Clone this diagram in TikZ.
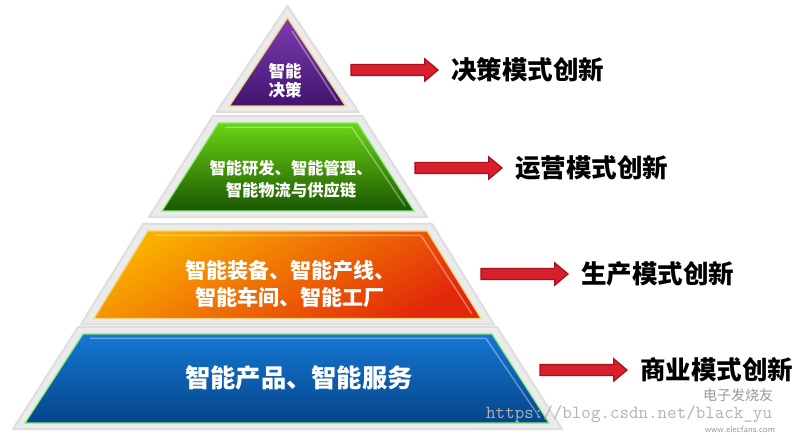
\documentclass[tikz,border=0pt]{standalone}
\usepackage{fontspec}
\newfontfamily\cjk{Noto Sans CJK SC}
\usetikzlibrary{positioning,shapes.arrows}

\definecolor{purpletop}{HTML}{7E3DB2}
\definecolor{purplebot}{HTML}{40146E}
\definecolor{greentop}{HTML}{6AD412}
\definecolor{greenbot}{HTML}{1B5704}
\definecolor{orangetop}{HTML}{FAB000}
\definecolor{orangebot}{HTML}{E2280A}
\definecolor{bluetop}{HTML}{1577D2}
\definecolor{bluebot}{HTML}{05458A}
\definecolor{goldedge}{HTML}{F3D27A}
\definecolor{limeedge}{HTML}{86EC78}
\definecolor{arrowred}{HTML}{D8202C}
\definecolor{arrowdark}{HTML}{A5101C}

\tikzset{
  halo/.style={fill=black!8, draw=black!13, line width=2pt, line join=round},
  bevel/.style={draw=white, opacity=0.35, line width=1.5pt},
  layertext/.style={text=white, align=center, inner sep=0pt},
  modelabel/.style={text=black, font=\cjk\bfseries\fontsize{25.5}{30}\selectfont, anchor=west, inner sep=0pt},
  redarrow/.style={single arrow, fill=arrowred, draw=arrowdark, line width=1.2pt,
    minimum height=87pt, text height=10pt, text depth=0pt, single arrow head extend=5.5pt,
    single arrow tip angle=80, inner sep=0pt}
}

\begin{document}
\begin{tikzpicture}[x=1pt, y=-1pt]
  \useasboundingbox (0,0) rectangle (800,435);
  \fill[white] (0,0) rectangle (800,435);

  % halos
  \draw[halo] (287.5,6) -- (358.5,112) -- (216.5,112) -- cycle;
  \draw[halo] (213,116) -- (362,116) -- (427,217) -- (149,217) -- cycle;
  \draw[halo] (143,224) -- (432,224) -- (494,324.5) -- (81,324.5) -- cycle;
  \draw[halo] (78,327) -- (497,327) -- (562,429) -- (13,429) -- cycle;

  % layers
  \shade[top color=purpletop, bottom color=purplebot, draw=goldedge, line width=1.2pt]
    (287.5,18) -- (345.5,106) -- (229.5,106) -- cycle;
  \draw[bevel] (292,31) -- (337,101);

  \shade[top color=greentop, bottom color=greenbot, draw=limeedge, line width=1.2pt]
    (218.5,123) -- (357.5,123) -- (414,211) -- (162,211) -- cycle;
  \draw[bevel] (225,127.5) -- (352,127.5) -- (405,206);

  \shade[top color=orangetop, bottom color=orangebot, shading angle=30, draw=goldedge, line width=1.2pt]
    (148,231) -- (427,231) -- (481,318.5) -- (94,318.5) -- cycle;
  \draw[bevel] (155,235.5) -- (421,235.5) -- (472,314);

  \shade[top color=bluetop, bottom color=bluebot, draw=limeedge, line width=1.2pt]
    (83,334) -- (492,334) -- (549,423) -- (25,423) -- cycle;
  \draw[bevel] (90,338.5) -- (486,338.5) -- (540,418);

  % layer texts
  \node[layertext, font=\cjk\bfseries\fontsize{16.5}{19.5}\selectfont] (decide) at (285,80.5) {智能\\决策};
  \node[layertext, font=\cjk\bfseries\fontsize{16.3}{22}\selectfont] (operate) at (291,179) {智能研发、智能管理、\\智能物流与供应链};
  \node[layertext, font=\cjk\bfseries\fontsize{21}{27}\selectfont] (produce) at (290,283.5) {智能装备、智能产线、\\智能车间、智能工厂};
  \node[layertext, font=\cjk\bfseries\fontsize{25.3}{30}\selectfont] (product) at (299,378) {智能产品、智能服务};

  % innovation labels and arrows
  \node[modelabel] (innov1) at (451,70) {决策模式创新};
  \node[modelabel] (innov2) at (515,168) {运营模式创新};
  \node[modelabel] (innov3) at (581,274) {生产模式创新};
  \node[modelabel] (innov4) at (640,370) {商业模式创新};
  \node[redarrow, left=12pt of innov1] (arr1) {};
  \node[redarrow, left=12pt of innov2] (arr2) {};
  \node[redarrow, left=12pt of innov3] (arr3) {};
  \node[redarrow, left=12pt of innov4] (arr4) {};

  % watermarks
  \node[anchor=west, inner sep=0pt, text=black!30, font=\ttfamily\fontsize{18.5}{18.5}\selectfont] (mark) at (486,414) {https://blog.csdn.net/black\_yu};
  \node[inner sep=0pt, text=black!40, font=\cjk\fontsize{14}{14}\selectfont] (fans) at (738,395) {电子发烧友};
  \node[inner sep=0pt, text=black!40, font=\sffamily\fontsize{9}{9}\selectfont] (fansurl) at (740,429.5) {www.elecfans.com};
\end{tikzpicture}
\end{document}
